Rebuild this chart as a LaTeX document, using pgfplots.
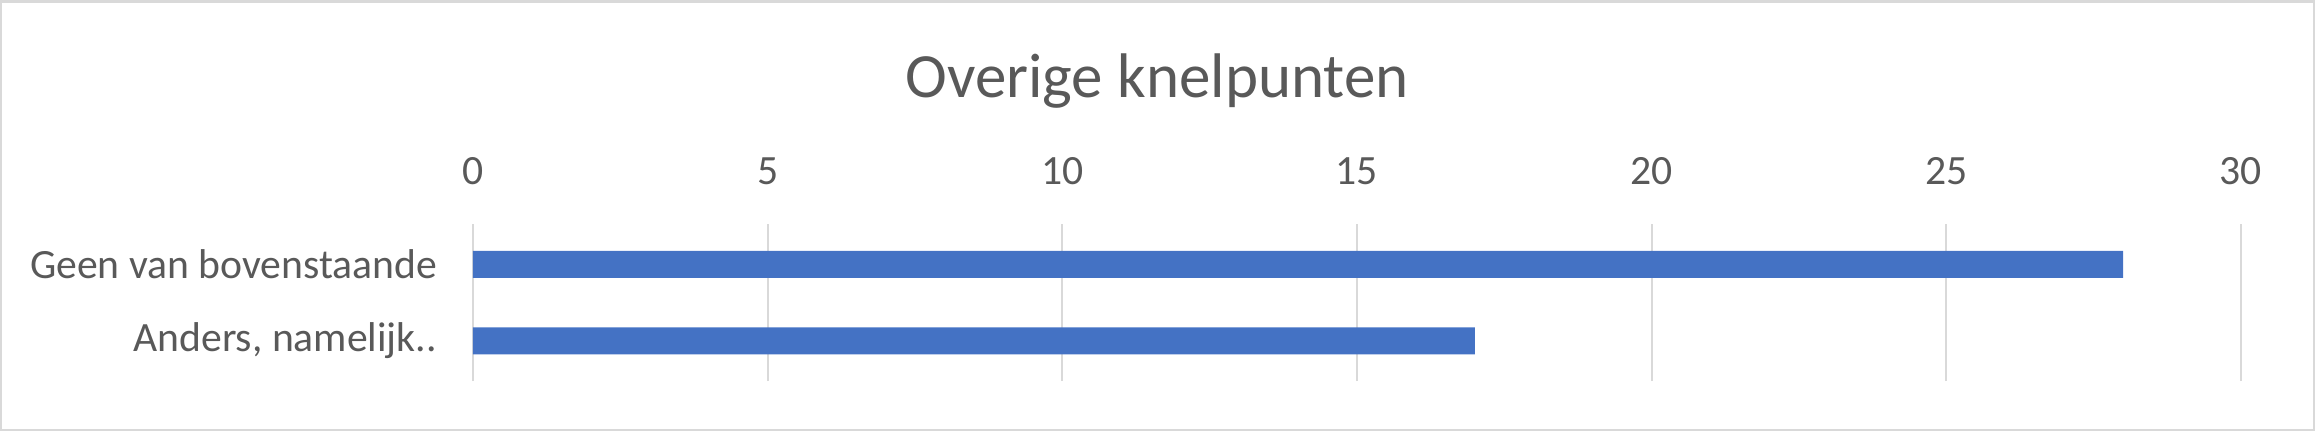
\documentclass[border=0pt]{standalone}
\usepackage{pgfplots}
\pgfplotsset{compat=1.18}
\usepackage{fontspec}
\setmainfont{Carlito}
\definecolor{barblue}{RGB}{68,114,196}
\definecolor{txtgray}{RGB}{89,89,89}
\definecolor{gridgray}{RGB}{217,217,217}
\begin{document}
\begin{tikzpicture}
\begin{axis}[
  at={(0pt,0pt)}, anchor=south west,
  scale only axis,
  width=530.4pt, height=47.1pt,
  xbar, bar width=8.1pt,
  xmin=0, xmax=30,
  ymin=-0.523, ymax=1.529,
  xtick={0,5,...,30},
  ytick={0,1},
  yticklabels={{Anders, namelijk..},{Geen van bovenstaande}},
  xticklabel pos=upper,
  axis line style={draw=none},
  major tick length=0pt,
  xmajorgrids,
  grid style={gridgray, line width=0.6pt},
  /pgf/number format/assume math mode=true,
  ticklabel style={font=\fontsize{12.5}{15}\selectfont, text=txtgray, inner sep=0pt},
  xticklabel style={anchor=base, yshift=11.85pt},
  yticklabel style={anchor=east, xshift=-10.6pt},
  clip=false,
]
\addplot[fill=barblue, draw=none] coordinates {(17,0) (28,1)};
\end{axis}
\node[anchor=base, text=txtgray, font=\fontsize{18.9}{22}\selectfont, inner sep=0pt] at (205.2pt,85.05pt) {Overige knelpunten};
\draw[gridgray, line width=0.75pt] (-141.525pt,-14.625pt) rectangle (552.225pt,113.925pt);
\end{tikzpicture}
\end{document}
